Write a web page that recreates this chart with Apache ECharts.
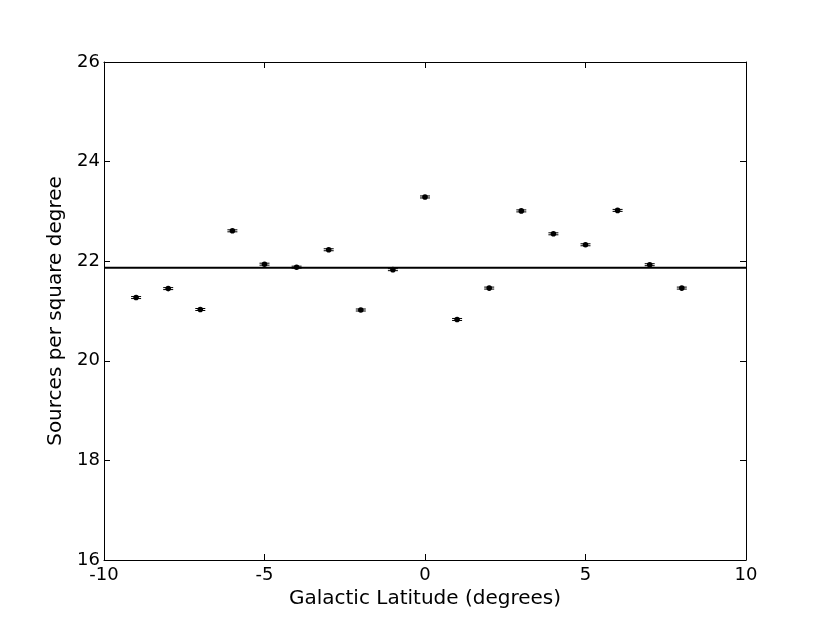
<!DOCTYPE html>
<html><head><meta charset="utf-8">
<script src="https://cdn.jsdelivr.net/npm/echarts@6/dist/echarts.min.js"></script>
<style>html,body{margin:0;padding:0;background:#fff}#c{width:830px;height:623px}</style>
</head><body><div id="c"></div>
<script>
const latitudes = [-9,-8,-7,-6,-5,-4,-3,-2,-1,0,1,2,3,4,5,6,7,8];
const density = [21.27,21.45,21.03,22.61,21.94,21.88,22.23,21.02,21.83,23.29,20.83,21.46,23.01,22.55,22.33,23.02,21.93,21.46];
const errors = [0.02,0.02,0.02,0.02,0.02,0.02,0.02,0.02,0.02,0.02,0.02,0.02,0.02,0.02,0.02,0.02,0.02,0.02];
const meanLevel = 21.87;
const xRange = [-10, 10];
const yRange = [16, 26];

const font = 'DejaVu Sans';
const chart = echarts.init(document.getElementById('c'));
const data = latitudes.map((x,i)=>[x, density[i], errors[i]]);
const axisCommon = {
  axisLine:{show:true,onZero:false,lineStyle:{color:'#000',width:1}},
  axisTick:{show:true,inside:true,length:6,lineStyle:{color:'#000'}},
  splitLine:{show:false}
};
chart.setOption({
  animation:false,
  grid:{left:104,right:84,top:62,bottom:63,containLabel:false},
  xAxis:[
    Object.assign({type:'value',min:xRange[0],max:xRange[1],interval:5,position:'bottom',
      name:'Galactic Latitude (degrees)',nameLocation:'middle',nameGap:27,
      nameTextStyle:{fontFamily:font,fontSize:20,color:'#000'},
      axisLabel:{fontFamily:font,fontSize:18,color:'#000',margin:6}},axisCommon),
    Object.assign({type:'value',min:xRange[0],max:xRange[1],interval:5,position:'top',axisLabel:{show:false}},axisCommon)
  ],
  yAxis:[
    Object.assign({type:'value',min:yRange[0],max:yRange[1],interval:2,position:'left',
      name:'Sources per square degree',nameLocation:'middle',nameGap:36,
      nameTextStyle:{fontFamily:font,fontSize:20,color:'#000'},
      axisLabel:{fontFamily:font,fontSize:18,color:'#000',margin:4}},axisCommon),
    Object.assign({type:'value',min:yRange[0],max:yRange[1],interval:2,position:'right',axisLabel:{show:false}},axisCommon)
  ],
  series:[
    {type:'line',data:[[xRange[0],meanLevel],[xRange[1],meanLevel]],symbol:'none',
      lineStyle:{color:'#000',width:2},silent:true,z:2},
    {type:'custom',data:data,z:3,
      renderItem:function(params,api){
        const x=api.value(0), y=api.value(1), e=api.value(2);
        const c=api.coord([x,y]);
        const top=api.coord([x,y+e]), bot=api.coord([x,y-e]);
        const hw=5;
        return {type:'group',children:[
          {type:'line',shape:{x1:c[0],y1:top[1],x2:c[0],y2:bot[1]},style:{stroke:'#000',lineWidth:1}},
          {type:'line',shape:{x1:c[0]-hw,y1:top[1],x2:c[0]+hw,y2:top[1]},style:{stroke:'#000',lineWidth:1}},
          {type:'line',shape:{x1:c[0]-hw,y1:bot[1],x2:c[0]+hw,y2:bot[1]},style:{stroke:'#000',lineWidth:1}},
          {type:'circle',shape:{cx:c[0],cy:c[1],r:2.8},style:{fill:'#000'}}
        ]};
      }}
  ]
});
</script></body></html>
